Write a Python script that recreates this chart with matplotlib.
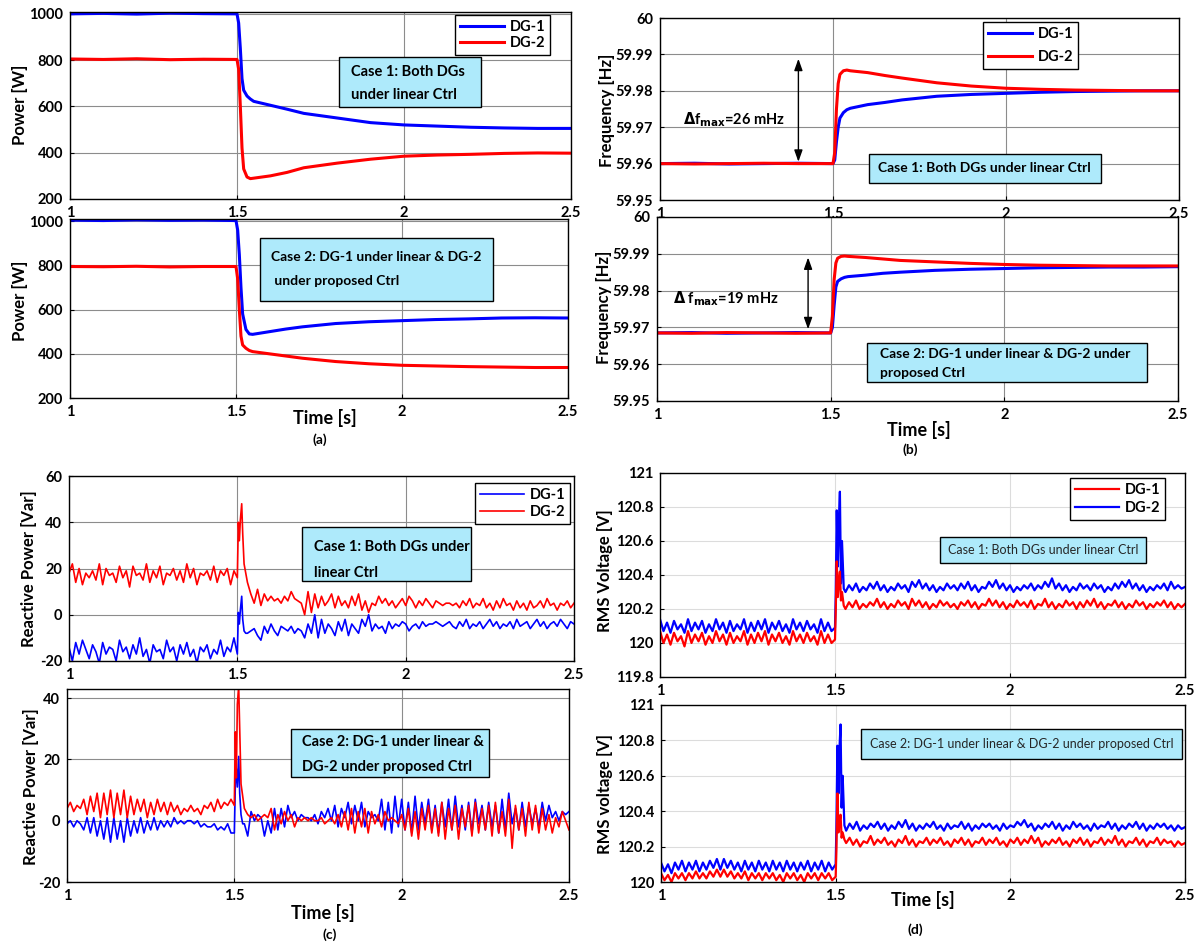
import numpy as np
import matplotlib
matplotlib.use('Agg')
import matplotlib.pyplot as plt
from matplotlib.patches import Rectangle

plt.rcParams['font.family'] = ['Lato', 'DejaVu Sans']
plt.rcParams['font.weight'] = 'bold'
plt.rcParams['mathtext.fontset'] = 'dejavusans'

# ---------------- data ----------------
x_ticks = [1, 1.5, 2, 2.5]
x_ticklabels = ['1', '1.5', '2', '2.5']

# (a) active power and (b) frequency, smooth traces
t_smooth = [1.0, 1.1, 1.2, 1.3, 1.4, 1.5, 1.505, 1.51, 1.515, 1.52, 1.53, 1.54, 1.55,
            1.6, 1.65, 1.7, 1.8, 1.9, 2.0, 2.1, 2.2, 2.3, 2.4, 2.5]

p1_dg1 = [1000, 1002, 999, 1003, 1001, 1000, 960, 850, 720, 670, 645, 632, 622,
          605, 588, 570, 550, 530, 520, 515, 510, 507, 505, 505]
p1_dg2 = [805, 803, 806, 802, 804, 803, 760, 600, 420, 330, 295, 288, 290,
          300, 315, 335, 355, 372, 385, 390, 393, 397, 399, 398]
p2_dg1 = [1005, 1003, 1006, 1004, 1005, 1003, 960, 850, 700, 580, 510, 490, 488,
          500, 512, 522, 537, 545, 550, 555, 558, 562, 563, 562]
p2_dg2 = [795, 794, 796, 793, 795, 795, 740, 600, 480, 440, 425, 415, 410,
          400, 390, 380, 365, 355, 348, 345, 342, 340, 338, 338]

f1_dg1 = [59.9600, 59.9601, 59.9599, 59.9600, 59.9601, 59.9600, 59.9610, 59.9660, 59.9700,
          59.9725, 59.9740, 59.9748, 59.9752, 59.9762, 59.9768, 59.9775, 59.9785, 59.9790,
          59.9793, 59.9796, 59.9798, 59.9799, 59.9800, 59.9800]
f1_dg2 = [59.9600, 59.9599, 59.9600, 59.9601, 59.9600, 59.9600, 59.9630, 59.9750, 59.9820,
          59.9845, 59.9855, 59.9857, 59.9855, 59.9850, 59.9842, 59.9835, 59.9822, 59.9813,
          59.9807, 59.9804, 59.9802, 59.9801, 59.9800, 59.9800]
f2_dg1 = [59.9685, 59.9686, 59.9684, 59.9685, 59.9686, 59.9685, 59.9700, 59.9760, 59.9810,
          59.9825, 59.9832, 59.9836, 59.9838, 59.9842, 59.9847, 59.9850, 59.9855, 59.9858,
          59.9860, 59.9862, 59.9863, 59.9864, 59.9864, 59.9865]
f2_dg2 = [59.9685, 59.9684, 59.9686, 59.9685, 59.9684, 59.9685, 59.9730, 59.9830, 59.9875,
          59.9888, 59.9893, 59.9894, 59.9893, 59.9890, 59.9886, 59.9882, 59.9878, 59.9874,
          59.9871, 59.9869, 59.9868, 59.9867, 59.9867, 59.9867]

# (c) reactive power: pre-step (1.00..1.50), spike, post-step (1.53..2.50)
q_spike_t = [1.503, 1.506, 1.509, 1.513, 1.516, 1.52, 1.525]

q1_dg1_pre = [-14, -20, -12, -17, -11, -15, -19, -13, -16, -21,
              -12, -17, -14, -15, -20, -11, -16, -14, -19, -13,
              -17, -10, -18, -15, -21, -13, -16, -15, -19, -11,
              -16, -14, -20, -13, -17, -12, -18, -15, -21, -14,
              -16, -13, -19, -15, -17, -11, -18, -14, -16, -10,
              -17]
q1_dg2_pre = [18, 22, 14, 20, 13, 18, 16, 19, 15, 22,
              13, 20, 17, 18, 14, 21, 16, 19, 12, 21,
              17, 18, 15, 22, 14, 19, 16, 21, 13, 18,
              17, 20, 15, 19, 14, 22, 16, 20, 13, 18,
              17, 19, 15, 21, 14, 19, 17, 20, 13, 19,
              16]
q1_dg1_spk = [1, -4, 2, 8, -2, -7, -8]
q1_dg2_spk = [40, 32, 41, 48, 35, 22, 18]
q1_dg1_post = [-8, -7, -6, -9, -11, -5, -8, -4, -7, -9,
               -5, -6, -7, -5, -8, -6, -7, -10, -4, -8,
               0, -10, -2, -8, -4, -6, -9, -3, -7, -2,
               -9, -4, -6, -8, -2, -5, 0, -7, -4, -6,
               -5, -8, -3, -6, -4, -5, -3, -4, -7, -5,
               -4, -6, -3, -5, -4, -4, -3, -4, -5, -4,
               -3, -5, -6, -3, -5, -2, -6, -4, -5, -3,
               -6, -4, -2, -5, -3, -6, -4, -5, -3, -6,
               -2, -5, -4, -3, -6, -4, -2, -5, -3, -6,
               -4, -3, -5, -2, -4, -6, -3, -4]
q1_dg2_post = [14, 9, 5, 11, 4, 9, 6, 8, 6, 7,
               5, 8, 6, 10, 7, 6, 5, 0, 10, 1,
               9, 3, 8, 4, 6, 9, 3, 8, 4, 6,
               3, 8, 4, 9, 2, 6, 1, 5, 4, 8,
               5, 7, 4, 6, 3, 5, 7, 4, 8, 6,
               3, 6, 4, 7, 5, 3, 6, 5, 4, 5,
               5, 4, 5, 3, 6, 4, 7, 3, 5, 4,
               7, 3, 5, 2, 6, 3, 7, 4, 5, 2,
               6, 3, 5, 2, 6, 3, 4, 6, 3, 7,
               4, 5, 2, 5, 4, 6, 3, 5]

q2_dg1_pre = [-1, 0, -2, 0, -1, -3, 1, -4, 1, -5,
              0, -6, 1, -7, 1, -6, 0, -7, 1, -5,
              0, -4, 1, -4, 0, -3, 1, -3, 0, -2,
              0, -2, 1, -1, 0, -1, 0, 0, -1, 0,
              -2, -1, -2, -2, -1, -3, -2, -3, -1, -4,
              -4]
q2_dg2_pre = [4, 6, 3, 5, 4, 7, 2, 8, 3, 9,
              1, 9, 2, 10, 1, 9, 2, 10, 1, 8,
              2, 7, 3, 7, 1, 6, 2, 7, 3, 6,
              2, 6, 3, 5, 2, 4, 3, 5, 3, 4,
              2, 5, 4, 6, 3, 7, 4, 6, 5, 7,
              5]
q2_dg1_spk = [12, 17, 11, 21, 9, 2, -1]
q2_dg2_spk = [29, 14, 38, 44, 30, 12, 8]
q2_dg1_post = [-1, -5, 3, 0, 2, 1, -5, 0, -4, 4,
               -3, 4, -2, 5, 1, 3, 0, 2, 1, 1,
               0, 2, -1, 3, 1, 4, 0, 5, -2, 4,
               1, 6, -1, 5, 0, 6, -2, 3, 1, 2,
               0, 7, -3, 6, -4, 8, -2, 7, -3, 6,
               -4, 8, -3, 6, -1, 7, -3, 5, -4, 6,
               -2, 7, -3, 8, -2, 5, -3, 6, -4, 7,
               -1, 5, -3, 6, -2, 5, -4, 7, -3, 9,
               -1, 4, -3, 6, -2, 5, -1, 4, -2, 6,
               0, 5, 1, 3, 0, 3, 2, 3]
q2_dg2_post = [4, 2, 1, 2, 0, 1, 2, 1, 4, -3,
               2, -1, 3, 0, 2, -2, 1, 0, 1, 0,
               1, 0, 0, 1, -1, 0, 1, -1, 2, -2,
               3, -3, 4, -4, 3, -2, 4, -4, 3, -1,
               2, -2, 3, 0, 1, 0, -1, 2, -3, 4,
               -5, 3, -6, 4, -3, 5, -4, 4, -5, 6,
               -6, 4, -3, 5, -6, 4, -2, 5, -5, 6,
               -4, 4, -3, 5, -5, 6, -4, 3, -5, 7,
               -9, 5, -3, 4, -5, 6, -3, 5, -4, 4,
               -3, 2, -4, 1, -2, 3, 0, -3]

# (d) RMS voltage (red = DG-1, blue = DG-2 in this panel)
v_spike_t = [1.502, 1.505, 1.508, 1.511, 1.514, 1.517, 1.52, 1.525]

v1_dg1_pre = [120.07, 120.00, 120.05, 119.99, 120.06, 120.01, 120.04, 119.98, 120.07, 120.00,
              120.05, 120.01, 120.06, 119.99, 120.04, 120.00, 120.07, 120.01, 120.05, 119.99,
              120.06, 120.00, 120.04, 120.01, 120.07, 119.99, 120.05, 120.00, 120.06, 120.01,
              120.07, 119.99, 120.05, 120.01, 120.06, 120.00, 120.04, 119.99, 120.07, 120.01,
              120.05, 120.00, 120.06, 120.01, 120.04, 119.99, 120.07, 120.00, 120.05, 120.00,
              120.02]
v1_dg2_pre = [120.14, 120.07, 120.12, 120.06, 120.13, 120.08, 120.11, 120.06, 120.14, 120.07,
              120.12, 120.08, 120.13, 120.06, 120.11, 120.07, 120.14, 120.08, 120.12, 120.06,
              120.13, 120.07, 120.11, 120.08, 120.14, 120.06, 120.12, 120.07, 120.13, 120.08,
              120.14, 120.06, 120.12, 120.08, 120.13, 120.07, 120.11, 120.06, 120.14, 120.08,
              120.12, 120.07, 120.13, 120.08, 120.11, 120.06, 120.14, 120.07, 120.12, 120.07,
              120.09]
v1_dg1_spk = [120.18, 120.48, 120.27, 120.36, 120.42, 120.25, 120.30, 120.22]
v1_dg2_spk = [120.28, 120.78, 120.45, 120.72, 120.89, 120.35, 120.60, 120.32]
v1_dg1_post = [120.20, 120.24, 120.21, 120.25, 120.20, 120.23, 120.21, 120.24, 120.22, 120.26,
               120.21, 120.24, 120.20, 120.23, 120.21, 120.25, 120.22, 120.24, 120.20, 120.26,
               120.22, 120.25, 120.21, 120.24, 120.20, 120.23, 120.21, 120.25, 120.22, 120.24,
               120.21, 120.23, 120.20, 120.24, 120.22, 120.25, 120.21, 120.24, 120.20, 120.23,
               120.22, 120.26, 120.22, 120.25, 120.21, 120.24, 120.20, 120.23, 120.21, 120.25,
               120.22, 120.24, 120.21, 120.25, 120.20, 120.23, 120.22, 120.26, 120.21, 120.24,
               120.20, 120.23, 120.21, 120.25, 120.22, 120.24, 120.20, 120.24, 120.21, 120.25,
               120.22, 120.26, 120.21, 120.24, 120.20, 120.23, 120.22, 120.25, 120.21, 120.24,
               120.20, 120.23, 120.21, 120.25, 120.22, 120.24, 120.20, 120.23, 120.21, 120.24,
               120.22, 120.25, 120.21, 120.24, 120.20, 120.23, 120.21, 120.23]
v1_dg2_post = [120.30, 120.34, 120.31, 120.35, 120.30, 120.33, 120.31, 120.35, 120.32, 120.36,
               120.31, 120.34, 120.30, 120.33, 120.31, 120.35, 120.32, 120.34, 120.30, 120.36,
               120.33, 120.37, 120.32, 120.35, 120.31, 120.34, 120.30, 120.33, 120.31, 120.35,
               120.32, 120.34, 120.31, 120.35, 120.32, 120.36, 120.31, 120.34, 120.30, 120.33,
               120.32, 120.36, 120.33, 120.37, 120.32, 120.35, 120.31, 120.34, 120.30, 120.33,
               120.31, 120.34, 120.32, 120.35, 120.31, 120.34, 120.32, 120.36, 120.33, 120.38,
               120.32, 120.35, 120.31, 120.34, 120.30, 120.33, 120.31, 120.35, 120.32, 120.34,
               120.31, 120.35, 120.32, 120.34, 120.30, 120.33, 120.31, 120.35, 120.32, 120.36,
               120.33, 120.37, 120.32, 120.35, 120.31, 120.34, 120.30, 120.33, 120.31, 120.34,
               120.32, 120.35, 120.31, 120.36, 120.32, 120.34, 120.32, 120.33]

v2_dg1_pre = [120.05, 120.01, 120.04, 120.00, 120.05, 120.02, 120.05, 120.01, 120.05, 120.02,
              120.06, 120.02, 120.05, 120.02, 120.06, 120.03, 120.07, 120.03, 120.07, 120.03,
              120.06, 120.02, 120.05, 120.02, 120.06, 120.01, 120.05, 120.02, 120.05, 120.01,
              120.05, 120.02, 120.05, 120.01, 120.04, 120.00, 120.05, 120.02, 120.05, 120.01,
              120.04, 120.00, 120.05, 120.02, 120.05, 120.01, 120.05, 120.02, 120.05, 120.01,
              120.03]
v2_dg2_pre = [120.11, 120.06, 120.10, 120.05, 120.11, 120.07, 120.12, 120.06, 120.11, 120.07,
              120.12, 120.06, 120.11, 120.07, 120.12, 120.08, 120.13, 120.07, 120.13, 120.08,
              120.12, 120.07, 120.11, 120.06, 120.12, 120.07, 120.11, 120.06, 120.12, 120.07,
              120.11, 120.06, 120.12, 120.07, 120.11, 120.06, 120.12, 120.07, 120.11, 120.06,
              120.11, 120.07, 120.12, 120.06, 120.11, 120.07, 120.12, 120.06, 120.11, 120.07,
              120.10]
v2_dg1_spk = [120.17, 120.50, 120.28, 120.34, 120.38, 120.25, 120.28, 120.24]
v2_dg2_spk = [120.30, 120.77, 120.50, 120.76, 120.89, 120.42, 120.60, 120.32]
v2_dg1_post = [120.22, 120.25, 120.21, 120.24, 120.20, 120.23, 120.22, 120.26, 120.21, 120.24,
               120.22, 120.25, 120.21, 120.23, 120.20, 120.24, 120.22, 120.26, 120.21, 120.24,
               120.20, 120.23, 120.22, 120.25, 120.21, 120.24, 120.22, 120.25, 120.21, 120.23,
               120.20, 120.24, 120.22, 120.25, 120.21, 120.24, 120.20, 120.23, 120.22, 120.25,
               120.21, 120.24, 120.22, 120.25, 120.21, 120.23, 120.20, 120.24, 120.22, 120.25,
               120.21, 120.24, 120.22, 120.26, 120.22, 120.25, 120.20, 120.23, 120.21, 120.24,
               120.22, 120.25, 120.21, 120.23, 120.20, 120.24, 120.22, 120.25, 120.21, 120.24,
               120.20, 120.23, 120.22, 120.25, 120.21, 120.24, 120.22, 120.26, 120.21, 120.24,
               120.20, 120.23, 120.22, 120.25, 120.21, 120.24, 120.20, 120.23, 120.22, 120.25,
               120.21, 120.24, 120.22, 120.23, 120.20, 120.23, 120.21, 120.22]
v2_dg2_post = [120.29, 120.33, 120.30, 120.34, 120.29, 120.32, 120.30, 120.33, 120.31, 120.34,
               120.30, 120.33, 120.29, 120.32, 120.30, 120.34, 120.31, 120.35, 120.30, 120.33,
               120.29, 120.32, 120.30, 120.33, 120.31, 120.34, 120.30, 120.32, 120.29, 120.33,
               120.30, 120.32, 120.31, 120.34, 120.30, 120.33, 120.29, 120.32, 120.30, 120.33,
               120.31, 120.33, 120.30, 120.32, 120.29, 120.33, 120.30, 120.32, 120.31, 120.34,
               120.32, 120.35, 120.31, 120.33, 120.29, 120.32, 120.30, 120.33, 120.31, 120.34,
               120.30, 120.33, 120.29, 120.32, 120.30, 120.34, 120.31, 120.33, 120.30, 120.32,
               120.29, 120.33, 120.30, 120.32, 120.31, 120.34, 120.30, 120.33, 120.29, 120.32,
               120.30, 120.33, 120.31, 120.34, 120.30, 120.33, 120.29, 120.32, 120.30, 120.33,
               120.31, 120.33, 120.30, 120.32, 120.29, 120.32, 120.30, 120.31]

# frequency deviation arrows (time, bottom, top)
arrow1 = (1.40, 59.9605, 59.9888)
arrow2 = (1.435, 59.9695, 59.9890)

# ---------------- drawing ----------------
W, H = 1197, 943
BLUE, RED = '#0000ff', '#ff0000'
BOX = '#aeeafb'

fig = plt.figure(figsize=(W / 100, H / 100), dpi=100)


def add_ax(l, t, r, b):
    return fig.add_axes([l / W, 1 - b / H, (r - l) / W, (b - t) / H])


def ftext(x, y, s, **kw):
    fig.text(x / W, 1 - y / H, s, **kw)


def trace(pre, spk_t, spk, post):
    t = np.concatenate([np.linspace(1.0, 1.5, len(pre)), spk_t,
                        np.linspace(1.53, 2.5, len(post))])
    return t, np.concatenate([pre, spk, post])


def style(ax, ylim, yticks, ylabels, gcol):
    ax.set_xlim(1, 2.5)
    ax.set_ylim(*ylim)
    ax.set_xticks(x_ticks)
    ax.set_xticklabels(x_ticklabels)
    ax.set_yticks(yticks)
    ax.set_yticklabels(ylabels)
    ax.tick_params(direction='in', length=3, labelsize=10.5, pad=5, width=0.8)
    ax.grid(True, color=gcol, lw=0.8)
    ax.set_axisbelow(True)
    for s in ax.spines.values():
        s.set_linewidth(1.0)


def case_box(l, t, r, b, lines, ys, x0, bold=True, size=10.5):
    fig.add_artist(Rectangle((l / W, 1 - b / H), (r - l) / W, (b - t) / H,
                             transform=fig.transFigure, facecolor=BOX,
                             edgecolor='black', lw=1.0, zorder=5))
    for s, y in zip(lines, ys):
        ftext(x0, y, s, ha='left', va='center', fontsize=size, zorder=6,
              fontweight='bold' if bold else 'normal',
              color='black' if bold else '#262626')


def legend(ax, handles, labels, x, y, spacing):
    lg = ax.legend(handles, labels, loc='upper left',
                   bbox_to_anchor=(x / W, 1 - y / H), bbox_transform=fig.transFigure,
                   fancybox=False, edgecolor='black', framealpha=1, fontsize=10.5,
                   handlelength=3.0, handletextpad=0.4, borderpad=0.35,
                   labelspacing=spacing, borderaxespad=0)
    lg.get_frame().set_linewidth(1.0)
    lg.set_zorder(10)
    return lg


p_ticks = [200, 400, 600, 800, 1000]
p_labels = ['200', '400', '600', '800', '1000']
f_ticks = [59.95, 59.96, 59.97, 59.98, 59.99, 60.0]
f_labels = ['59.95', '59.96', '59.97', '59.98', '59.99', '60']
grid_dark = '#8c8c8c'
grid_light = '#dcdcdc'

# (a) top
ax = add_ax(70, 12, 571, 199)
l1, = ax.plot(t_smooth, p1_dg1, color=BLUE, lw=2.2)
l2, = ax.plot(t_smooth, p1_dg2, color=RED, lw=2.2)
style(ax, (200, 1008), p_ticks, p_labels, grid_dark)
legend(ax, [l1, l2], ['DG-1', 'DG-2'], 455, 15, 0.15)
case_box(339, 57, 481, 107, ['Case 1: Both DGs', 'under linear Ctrl'], [72, 95], 351)
ftext(20, 105, 'Power [W]', rotation=90, ha='center', va='center', fontsize=12)

# (a) bottom
ax = add_ax(70, 219, 568, 398)
ax.plot(t_smooth, p2_dg1, color=BLUE, lw=2.2)
ax.plot(t_smooth, p2_dg2, color=RED, lw=2.2)
style(ax, (200, 1010), p_ticks, p_labels, grid_dark)
case_box(260, 238, 493, 301, ['Case 2: DG-1 under linear & DG-2', ' under proposed Ctrl'],
         [257, 281], 271, size=10)
ftext(20, 301, 'Power [W]', rotation=90, ha='center', va='center', fontsize=12)
ftext(325, 418, 'Time [s]', ha='center', va='center', fontsize=13)
ftext(320, 440, '(a)', ha='center', va='center', fontsize=10)

# (b) top
ax = add_ax(660, 18, 1179, 200)
l1, = ax.plot(t_smooth, f1_dg1, color=BLUE, lw=2.2)
l2, = ax.plot(t_smooth, f1_dg2, color=RED, lw=2.2)
style(ax, (59.95, 60.0), f_ticks, f_labels, grid_dark)
legend(ax, [l1, l2], ['DG-1', 'DG-2'], 983, 22, 0.6)
ax.annotate('', xy=(arrow1[0], arrow1[2]), xytext=(arrow1[0], arrow1[1]),
            arrowprops=dict(arrowstyle='<|-|>,head_length=0.7,head_width=0.25',
                            color='black', lw=1.0, shrinkA=0, shrinkB=0))
case_box(869, 154, 1101, 183, ['Case 1: Both DGs under linear Ctrl'], [168], 878, size=10)
ftext(683, 120, r'$\Delta$f$_{\mathbf{max}}$=26 mHz', ha='left', va='center', fontsize=10.5)
ftext(607, 110, 'Frequency [Hz]', rotation=90, ha='center', va='center', fontsize=12)

# (b) bottom
ax = add_ax(657, 217, 1178, 401)
ax.plot(t_smooth, f2_dg1, color=BLUE, lw=2.2)
ax.plot(t_smooth, f2_dg2, color=RED, lw=2.2)
style(ax, (59.95, 60.0), f_ticks, f_labels, grid_dark)
ax.annotate('', xy=(arrow2[0], arrow2[2]), xytext=(arrow2[0], arrow2[1]),
            arrowprops=dict(arrowstyle='<|-|>,head_length=0.7,head_width=0.25',
                            color='black', lw=1.0, shrinkA=0, shrinkB=0))
case_box(867, 343, 1147, 382, ['Case 2: DG-1 under linear & DG-2 under', 'proposed Ctrl'],
         [354, 373], 880, size=10)
ftext(673, 299, r'$\Delta$ f$_{\mathbf{max}}$=19 mHz', ha='left', va='center', fontsize=10.5)
ftext(604, 307, 'Frequency [Hz]', rotation=90, ha='center', va='center', fontsize=12)
ftext(919, 430, 'Time [s]', ha='center', va='center', fontsize=13)
ftext(910, 450, '(b)', ha='center', va='center', fontsize=10)

# (c) top
ax = add_ax(69, 476, 574, 661)
t, y = trace(q1_dg1_pre, q_spike_t, q1_dg1_spk, q1_dg1_post)
l1, = ax.plot(t, y, color=BLUE, lw=1.2)
t, y = trace(q1_dg2_pre, q_spike_t, q1_dg2_spk, q1_dg2_post)
l2, = ax.plot(t, y, color=RED, lw=1.2)
style(ax, (-20, 60), [-20, 0, 20, 40, 60], ['-20', '0', '20', '40', '60'], grid_dark)
legend(ax, [l1, l2], ['DG-1', 'DG-2'], 475, 483, 0.2)
case_box(302, 527, 471, 581, ['Case 1: Both DGs under', 'linear Ctrl'], [547, 573], 314)
ftext(29, 569, 'Reactive Power [Var]', rotation=90, ha='center', va='center', fontsize=12)

# (c) bottom
ax = add_ax(67, 689, 569, 882)
t, y = trace(q2_dg1_pre, q_spike_t, q2_dg1_spk, q2_dg1_post)
ax.plot(t, y, color=BLUE, lw=1.2)
t, y = trace(q2_dg2_pre, q_spike_t, q2_dg2_spk, q2_dg2_post)
ax.plot(t, y, color=RED, lw=1.2)
style(ax, (-20, 43), [-20, 0, 20, 40], ['-20', '0', '20', '40'], grid_dark)
case_box(291, 729, 489, 777, ['Case 2: DG-1 under linear &', 'DG-2 under proposed Ctrl'],
         [742, 767], 302)
ftext(31, 787, 'Reactive Power [Var]', rotation=90, ha='center', va='center', fontsize=12)
ftext(323, 913, 'Time [s]', ha='center', va='center', fontsize=13)
ftext(330, 935, '(c)', ha='center', va='center', fontsize=10)

# (d) top
v_ticks1 = [119.8, 120.0, 120.2, 120.4, 120.6, 120.8, 121.0]
v_labels1 = ['119.8', '120', '120.2', '120.4', '120.6', '120.8', '121']
ax = add_ax(660, 473, 1185, 677)
t, y = trace(v1_dg2_pre, v_spike_t, v1_dg2_spk, v1_dg2_post)
lb, = ax.plot(t, y, color=BLUE, lw=1.6)
t, y = trace(v1_dg1_pre, v_spike_t, v1_dg1_spk, v1_dg1_post)
lr, = ax.plot(t, y, color=RED, lw=1.6)
style(ax, (119.8, 121.0), v_ticks1, v_labels1, grid_light)
legend(ax, [lr, lb], ['DG-1', 'DG-2'], 1070, 478, 0.25)
case_box(940, 537, 1146, 563, ['Case 1: Both DGs under linear Ctrl'], [550], 948,
         bold=False, size=9)
ftext(605, 571, 'RMS Voltage [V]', rotation=90, ha='center', va='center', fontsize=12)

# (d) bottom
ax = add_ax(661, 705, 1185, 882)
t, y = trace(v2_dg2_pre, v_spike_t, v2_dg2_spk, v2_dg2_post)
ax.plot(t, y, color=BLUE, lw=1.6)
t, y = trace(v2_dg1_pre, v_spike_t, v2_dg1_spk, v2_dg1_post)
ax.plot(t, y, color=RED, lw=1.6)
style(ax, (120.0, 121.0), v_ticks1[1:], v_labels1[1:], grid_light)
case_box(861, 729, 1182, 759, ['Case 2: DG-1 under linear & DG-2 under proposed Ctrl'],
         [744], 870, bold=False, size=9)
ftext(605, 794, 'RMS voltage [V]', rotation=90, ha='center', va='center', fontsize=12)
ftext(923, 900, 'Time [s]', ha='center', va='center', fontsize=13)
ftext(915, 930, '(d)', ha='center', va='center', fontsize=10)

fig.savefig('out.png', dpi=100)
